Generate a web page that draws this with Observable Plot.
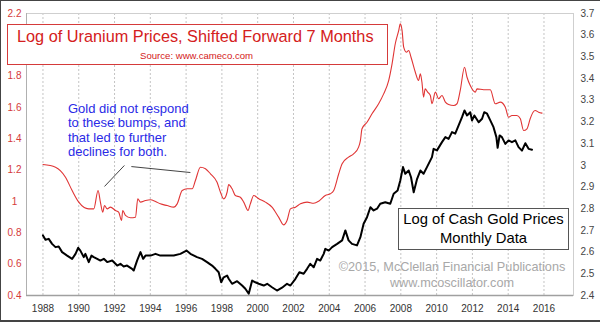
<!DOCTYPE html>
<html><head><meta charset="utf-8">
<script src="https://cdn.jsdelivr.net/npm/d3@7"></script>
<script src="https://cdn.jsdelivr.net/npm/@observablehq/plot@0.6"></script>
<style>
body{margin:0;background:#fff;}
#wrap{position:relative;width:600px;height:322px;font-family:"Liberation Sans",Arial,sans-serif;overflow:hidden;background:#fff}
#wrap:after{content:"";position:absolute;left:0;top:0;right:0;bottom:0;border-top:1px solid #444;border-left:1px solid #444;border-bottom:2px solid #444;pointer-events:none}
#wrap svg{position:absolute;left:0;top:0}
.ov{position:absolute;line-height:1;white-space:nowrap}
.box{position:absolute;background:#fff;box-sizing:border-box}
</style></head>
<body>
<div id="wrap"></div>
<script>
// Uranium (log10 of price, shifted forward 7 months) - left axis
const uYears = [1988.0,1988.70,1989.26,1989.63,1990.00,1990.56,1990.84,1991.08,1991.21,1991.34,1991.44,1991.59,1991.77,1992.05,1992.23,1992.39,1992.46,1992.61,1992.89,1993.17,1993.30,1993.45,1993.73,1994.01,1994.29,1994.56,1994.94,1995.31,1995.50,1995.78,1996.06,1996.34,1996.52,1996.80,1997.08,1997.36,1997.73,1997.92,1998.10,1998.29,1998.38,1998.57,1998.75,1999.03,1999.22,1999.46,1999.59,1999.78,2000.06,2000.43,2000.80,2001.17,2001.45,2001.64,2001.83,2002.11,2002.39,2002.76,2003.13,2003.41,2003.78,2004.06,2004.25,2004.53,2004.72,2005.08,2005.36,2005.64,2005.74,2005.83,2006.11,2006.39,2006.76,2007.04,2007.32,2007.51,2007.69,2007.88,2007.97,2008.07,2008.16,2008.31,2008.44,2008.57,2008.81,2008.99,2009.09,2009.18,2009.27,2009.36,2009.50,2009.65,2009.74,2009.93,2010.11,2010.30,2010.49,2010.67,2010.95,2011.14,2011.32,2011.56,2011.70,2011.88,2012.16,2012.26,2012.63,2013.00,2013.28,2013.56,2013.84,2014.02,2014.21,2014.49,2014.68,2014.86,2015.05,2015.23,2015.39,2015.51,2015.70,2015.89];
const uValues = [1.236,1.219,1.155,1.070,0.996,0.953,0.953,1.070,0.996,0.932,0.974,0.953,0.964,0.943,0.932,0.879,0.943,0.911,0.896,0.900,1.017,0.996,1.006,1.011,1.000,0.985,0.974,0.964,0.985,1.070,1.081,1.081,1.134,1.219,1.209,1.177,1.123,1.059,1.017,1.059,1.108,1.081,1.038,1.027,0.996,0.943,0.985,1.038,1.017,0.996,0.964,0.900,0.851,0.879,0.953,0.964,0.985,0.996,0.989,1.002,1.038,1.049,1.070,1.177,1.241,1.283,1.304,1.347,1.389,1.464,1.506,1.560,1.624,1.687,1.772,1.879,2.007,2.091,2.134,2.091,1.985,1.953,1.964,1.921,1.825,1.772,1.815,1.761,1.666,1.719,1.698,1.677,1.624,1.698,1.656,1.677,1.634,1.619,1.613,1.624,1.709,1.857,1.793,1.740,1.698,1.719,1.713,1.713,1.624,1.634,1.602,1.538,1.549,1.549,1.528,1.453,1.464,1.528,1.570,1.581,1.570,1.564];

// Gold (log10 of cash price, monthly) - right axis
const gYears = [1988.00,1988.14,1988.32,1988.51,1988.70,1988.88,1989.07,1989.35,1989.63,1989.82,1989.97,1990.09,1990.28,1990.37,1990.56,1990.71,1990.84,1991.03,1991.21,1991.40,1991.59,1991.87,1992.15,1992.33,1992.51,1992.70,1992.98,1993.07,1993.26,1993.45,1993.60,1993.73,1994.01,1994.29,1994.56,1994.94,1995.31,1995.68,1996.02,1996.24,1996.61,1996.89,1997.17,1997.45,1997.64,1997.82,1997.96,1998.10,1998.29,1998.38,1998.57,1998.85,1999.13,1999.31,1999.50,1999.69,1999.87,2000.06,2000.34,2000.53,2000.80,2001.08,2001.36,2001.64,2001.83,2002.11,2002.33,2002.57,2002.76,2002.94,2003.13,2003.32,2003.50,2003.69,2003.78,2003.97,2004.16,2004.44,2004.72,2004.90,2005.08,2005.27,2005.55,2005.74,2005.92,2006.11,2006.30,2006.48,2006.67,2006.85,2007.13,2007.41,2007.60,2007.82,2007.97,2008.12,2008.25,2008.44,2008.57,2008.72,2008.91,2009.09,2009.27,2009.46,2009.74,2009.83,2010.02,2010.30,2010.49,2010.67,2010.86,2011.04,2011.23,2011.42,2011.56,2011.70,2011.88,2011.98,2012.11,2012.35,2012.54,2012.66,2012.82,2013.00,2013.18,2013.34,2013.41,2013.52,2013.65,2013.84,2014.02,2014.21,2014.40,2014.58,2014.77,2014.96,2015.14,2015.33];
const gValues = [2.677,2.657,2.661,2.638,2.623,2.626,2.600,2.584,2.569,2.592,2.620,2.607,2.577,2.592,2.554,2.584,2.577,2.569,2.561,2.569,2.554,2.561,2.538,2.546,2.534,2.538,2.523,2.515,2.561,2.600,2.569,2.584,2.584,2.592,2.584,2.584,2.584,2.592,2.607,2.592,2.577,2.569,2.554,2.538,2.523,2.507,2.461,2.484,2.492,2.477,2.454,2.466,2.446,2.431,2.408,2.469,2.461,2.454,2.446,2.454,2.438,2.423,2.436,2.454,2.446,2.477,2.507,2.500,2.523,2.546,2.530,2.569,2.561,2.592,2.615,2.607,2.623,2.638,2.654,2.700,2.654,2.638,2.631,2.669,2.731,2.761,2.807,2.792,2.800,2.823,2.830,2.823,2.869,2.884,2.930,2.992,2.961,2.976,2.945,2.876,2.938,2.976,2.961,2.992,3.038,3.076,3.069,3.107,3.130,3.122,3.153,3.146,3.184,3.222,3.253,3.230,3.245,3.207,3.230,3.199,3.215,3.245,3.238,3.207,3.176,3.130,3.081,3.138,3.130,3.099,3.115,3.107,3.115,3.084,3.068,3.102,3.076,3.072];

const xTicks = [1988,1990,1992,1994,1996,1998,2000,2002,2004,2006,2008,2010,2012,2014,2016];
const leftTicks = [0.4,0.6,0.8,1,1.2,1.4,1.6,1.8,2,2.2];
const rightTicks = [2.4,2.5,2.6,2.7,2.8,2.9,3,3.1,3.2,3.3,3.4,3.5,3.6,3.7];

// annotation pointer lines (year, uranium-axis value)
const noteX1 = [1991.44, 1992.94];
const noteY1 = [1.096, 1.223];
const noteX2 = [1992.55, 1996.24];
const noteY2 = [1.230, 1.185];

const uDomain = [0.4, 2.2];
const gDomain = [2.4, 3.7];
const toLeft = g => uDomain[0] + (g - gDomain[0]) * (uDomain[1]-uDomain[0]) / (gDomain[1]-gDomain[0]);
const toRight = u => gDomain[0] + (u - uDomain[0]) * (gDomain[1]-gDomain[0]) / (uDomain[1]-uDomain[0]);

const uranium = uYears.map((t,i)=>({t, v:uValues[i]}));
const gold = gYears.map((t,i)=>({t, v:toLeft(gValues[i])}));
const notes = noteX1.map((x1,i)=>({x1, y1:noteY1[i], x2:noteX2[i], y2:noteY2[i]}));
const xDomain = [1987.08, 2017.65];

const chart = Plot.plot({
  width: 600, height: 322,
  marginLeft: 26, marginRight: 27, marginTop: 13, marginBottom: 27,
  style: {fontFamily: '"Liberation Sans", Arial, sans-serif', fontSize: "10px", background: "transparent"},
  x: {domain: xDomain},
  y: {domain: uDomain},
  marks: [
    Plot.ruleX(xTicks, {stroke: "#c4c4c4", strokeDasharray: "2,2"}),
    Plot.frame({stroke: "#cfcfcf"}),
    Plot.ruleY([uDomain[0]], {stroke: "#a0a0a0", strokeWidth: 1.5}),
    Plot.ruleX([xDomain[0]], {stroke: "#b0b0b0", strokeWidth: 1}),
    Plot.axisX({ticks: xTicks, tickFormat: d => String(d), tickSize: 0, tickPadding: 9, color: "#333", fontSize: 10}),
    Plot.axisY({ticks: leftTicks, anchor: "left", tickSize: 0, tickPadding: 12, textAnchor: "middle", color: "#d53a3a", fontSize: 10, tickFormat: d => String(d), label: null}),
    Plot.axisY(rightTicks.map(toLeft), {anchor: "right", tickSize: 0, tickPadding: 7, color: "#444", fontSize: 10, tickFormat: d => String(Math.round(toRight(d)*10)/10), label: null}),
    Plot.lineY(uranium, {x: "t", y: "v", stroke: "#e03535", strokeWidth: 1.1, curve: "monotone-x"}),
    Plot.lineY(gold, {x: "t", y: "v", stroke: "#000", strokeWidth: 2, strokeLinejoin: "round"}),
    Plot.link(notes, {x1: "x1", y1: "y1", x2: "x2", y2: "y2", stroke: "#444", strokeWidth: 1})
  ]
});
const wrap = document.getElementById("wrap");
wrap.appendChild(chart);

function add(html, style, cls) {
  const d = document.createElement("div");
  d.className = cls || "ov";
  d.innerHTML = html;
  Object.assign(d.style, style);
  wrap.appendChild(d);
  return d;
}
add("", {left:"7px", top:"24px", width:"381px", height:"41px", border:"1.5px solid #d53a3a"}, "box");
add("Log of Uranium Prices, Shifted Forward 7 Months", {left:"17px", top:"28.2px", fontSize:"16.3px", color:"#d42020"});
add("Source: www.cameco.com", {left:"140px", top:"50.9px", fontSize:"9.6px", color:"#d42020"});
add("Gold did not respond<br>to these bumps, and<br>that led to further<br>declines for both.", {left:"68px", top:"101.8px", fontSize:"13px", lineHeight:"14.4px", color:"#2a2ae6"});
add("", {left:"398px", top:"208px", width:"171px", height:"41.5px", border:"1.5px solid #555"}, "box");
add("Log of Cash Gold Prices<br>Monthly Data", {left:"398px", top:"209.5px", width:"171px", textAlign:"center", fontSize:"14.8px", lineHeight:"19px", color:"#000"});
add("©2015, McClellan Financial Publications<br>www.mcoscillator.com", {left:"330px", top:"259.3px", width:"244px", textAlign:"center", fontSize:"12.7px", lineHeight:"16px", color:"#a8a8a8"});
</script>
</body></html>
